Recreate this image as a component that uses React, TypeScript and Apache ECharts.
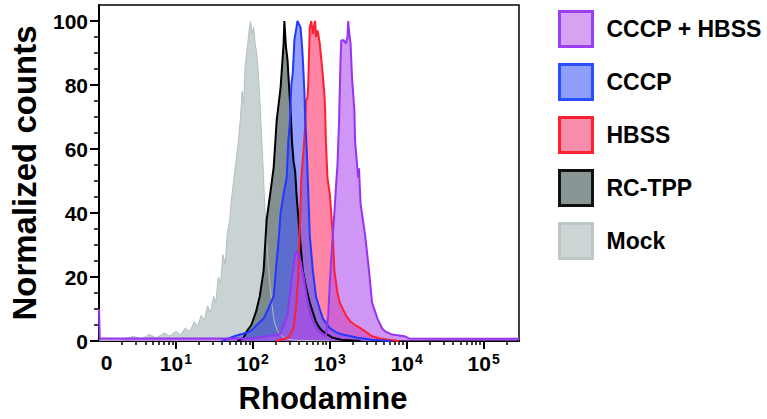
import React, { useEffect, useRef } from "react";
import * as echarts from "echarts";

// x positions are in decades (log10 of Rhodamine intensity on the display scale)
const mockX = [0.0, 0.3, 0.45, 0.55, 0.65, 0.75, 0.85, 0.92, 1.0, 1.06, 1.12, 1.18, 1.24, 1.28, 1.33, 1.37, 1.41, 1.45, 1.49, 1.52, 1.55, 1.58, 1.61, 1.64, 1.67, 1.7, 1.72, 1.75, 1.78, 1.81, 1.84, 1.86, 1.88, 1.9, 1.93, 1.95, 1.97, 1.99, 2.01, 2.03, 2.05, 2.07, 2.09, 2.11, 2.13, 2.15, 2.17, 2.19, 2.22, 2.25, 2.28, 2.32, 2.38, 2.45, 2.6, 3.0];
const mockY = [0, 0.5, 1.5, 0.5, 2, 1, 2.5, 1.5, 3, 2, 4, 3, 6, 4.5, 8, 6.5, 11, 9, 14, 12, 20, 18, 27, 24, 34, 38, 44, 50, 56, 62, 70, 78, 74, 86, 92, 97, 100, 96, 98, 93, 90, 84, 76, 66, 56, 45, 36, 27, 18, 11, 6, 3, 1.5, 0.5, 0.2, 0];

const rctppX = [1.8, 1.88, 1.92, 1.98, 2.04, 2.09, 2.14, 2.18, 2.22, 2.27, 2.31, 2.34, 2.36, 2.38, 2.4, 2.41, 2.43, 2.45, 2.47, 2.49, 2.51, 2.53, 2.55, 2.57, 2.6, 2.62, 2.65, 2.69, 2.74, 2.78, 2.82, 2.87, 2.91, 2.98, 3.04, 3.15, 3.4];
const rctppY = [0, 1, 3, 5, 9, 14, 22, 38, 45, 54, 69, 75, 79, 86, 93, 100, 92, 88, 80, 72, 62, 56, 53, 45, 36, 30, 22, 17, 12, 9, 6, 4, 3, 1.8, 1, 0.4, 0];

const hbssX = [2.3, 2.46, 2.53, 2.56, 2.59, 2.61, 2.63, 2.66, 2.68, 2.69, 2.71, 2.72, 2.74, 2.76, 2.78, 2.8, 2.81, 2.82, 2.84, 2.85, 2.87, 2.89, 2.91, 2.93, 2.94, 2.95, 2.97, 3.0, 3.01, 3.04, 3.06, 3.1, 3.13, 3.17, 3.21, 3.27, 3.33, 3.4, 3.46, 3.55, 3.65, 3.74, 3.9];
const hbssY = [0, 1, 4, 10, 20, 35, 51, 60, 67, 75, 76, 80, 98, 100, 96, 99, 100, 95, 97, 96, 93, 88, 83, 77, 72, 62, 51, 46, 43, 33, 22, 15, 12, 10, 8, 6, 5, 4, 3, 1.5, 0.8, 0.5, 0];

const cccpX = [1.6, 1.76, 1.9, 1.97, 2.05, 2.14, 2.2, 2.27, 2.31, 2.34, 2.36, 2.4, 2.44, 2.46, 2.48, 2.5, 2.52, 2.54, 2.56, 2.58, 2.6, 2.62, 2.63, 2.64, 2.65, 2.67, 2.68, 2.7, 2.72, 2.74, 2.78, 2.82, 2.87, 2.91, 3.0, 3.1, 3.17, 3.36, 3.55, 3.8];
const cccpY = [0, 1.5, 2.5, 3, 5, 7, 10, 14, 25, 33, 40, 46, 51, 62, 68, 80, 84, 94, 97, 100, 99, 98, 95, 92, 88, 78, 70, 60, 47, 33, 22, 14, 10, 7, 4, 2.5, 2, 1, 0.4, 0];

const comboX = [0.0, 0.01, 1.0, 2.0, 2.35, 2.45, 2.5, 2.55, 2.58, 2.62, 2.66, 2.7, 2.75, 2.8, 2.86, 2.92, 2.95, 2.98, 3.0, 3.03, 3.06, 3.08, 3.1, 3.12, 3.14, 3.15, 3.18, 3.21, 3.23, 3.24, 3.25, 3.27, 3.29, 3.32, 3.33, 3.37, 3.38, 3.4, 3.46, 3.51, 3.55, 3.62, 3.68, 3.72, 3.81, 3.97, 4.03, 4.5, 5.0, 5.46];
const comboY = [10, 0.8, 0.8, 0.8, 2, 8, 18, 27, 28, 25, 20, 14, 8, 5, 3, 2, 1.5, 8, 18, 30, 40, 48, 55, 68, 88, 94, 94, 93, 95, 100, 97, 93, 82, 72, 62, 51, 54, 43, 33, 22, 12, 7, 4, 3, 2, 1.5, 0.8, 0.7, 0.7, 0.7];

const seriesNames = ["CCCP + HBSS", "CCCP", "HBSS", "RC-TPP", "Mock"];

const xMajorTicks = [1, 2, 3, 4, 5];
const xLabelPositions = [0.1, 1, 2, 3, 4, 5];
const xLabelExponents = [null, 1, 2, 3, 4, 5];
const yMajorTicks = [0, 20, 40, 60, 80, 100];
const yMinorTicks = [5, 10, 15, 25, 30, 35, 45, 50, 55, 65, 70, 75, 85, 90, 95];

const X_MAX = 5.46;
const FONT = "'Liberation Sans', Arial, Helvetica, sans-serif";

function pairs(xs: number[], ys: number[]) {
  return xs.map((x, i) => [x, ys[i]]);
}

function minorTicks(): number[] {
  const out: number[] = [];
  for (let n = 0; n <= 5; n++) {
    for (let k = 2; k <= 9; k++) {
      const v = n + Math.log10(k);
      if (v < X_MAX) out.push(v);
    }
  }
  return out;
}

export default function App() {
  const ref = useRef<HTMLDivElement>(null);
  useEffect(() => {
    if (!ref.current) return;
    const chart = echarts.init(ref.current, undefined, { renderer: "svg" });

    const mk = (name: string, xs: number[], ys: number[], line: string, fill: string, opacity: number, width: number) => ({
      name,
      type: "line",
      data: pairs(xs, ys),
      xAxisIndex: 0,
      yAxisIndex: 0,
      showSymbol: false,
      symbol: "none",
      smooth: false,
      lineStyle: { color: line, width },
      itemStyle: { color: line },
      areaStyle: { color: fill, opacity },
      emphasis: { disabled: true },
    });

    const legendStyles: Record<string, { color: string; borderColor: string }> = {
      "CCCP + HBSS": { color: "#d8a2f2", borderColor: "#9a40f0" },
      CCCP: { color: "#8f9ef8", borderColor: "#2850ff" },
      HBSS: { color: "#f78daa", borderColor: "#ff2030" },
      "RC-TPP": { color: "#8a9696", borderColor: "#111111" },
      Mock: { color: "#cdd5d5", borderColor: "#bcc7c7" },
    };

    chart.setOption({
      animation: false,
      backgroundColor: "#ffffff",
      grid: {
        left: 93,
        right: 248,
        top: 5,
        bottom: 76,
        show: true,
        borderColor: "#000",
        borderWidth: 1.5,
        backgroundColor: "transparent",
      },
      legend: {
        orient: "vertical",
        left: 558,
        top: 10,
        padding: 0,
        itemWidth: 33,
        itemHeight: 35,
        itemGap: 15,
        icon: "rect",
        selectedMode: false,
        textStyle: {
          fontFamily: FONT,
          fontWeight: "bold",
          fontSize: 23,
          color: "#000",
          padding: [6, 0, 0, 9],
        },
        data: seriesNames.map((n) => ({
          name: n,
          itemStyle: { color: legendStyles[n].color, borderColor: legendStyles[n].borderColor, borderWidth: 3 },
        })),
      },
      xAxis: [
        {
          type: "value",
          position: "bottom",
          min: 0,
          max: X_MAX,
          name: "Rhodamine",
          nameLocation: "middle",
          nameGap: 42,
          nameTextStyle: { fontFamily: FONT, fontWeight: "bold", fontSize: 31, color: "#000", padding: [0, 0, 0, 28] },
          axisLine: { show: true, lineStyle: { color: "#000", width: 2 } },
          axisTick: { show: true, customValues: xMajorTicks, length: 8, lineStyle: { color: "#000", width: 2 } },
          axisLabel: {
            customValues: xLabelPositions,
            margin: 11,
            fontFamily: FONT,
            fontWeight: "bold",
            fontSize: 21,
            color: "#000",
            formatter: (v: number) => {
              const i = xLabelPositions.findIndex((t) => Math.abs(t - v) < 1e-6);
              const e = i >= 0 ? xLabelExponents[i] : null;
              return e === null ? "{b|0}" : "{b|10}{s|" + e + "}";
            },
            rich: {
              b: { fontFamily: FONT, fontWeight: "bold", fontSize: 21, color: "#000" },
              s: { fontFamily: FONT, fontWeight: "bold", fontSize: 14, color: "#000", verticalAlign: "top", padding: [0, 0, 8, 1] },
            },
          },
          splitLine: { show: false },
        },
        {
          type: "value",
          position: "bottom",
          min: 0,
          max: X_MAX,
          axisLine: { show: false },
          axisTick: { show: true, customValues: minorTicks(), length: 4, lineStyle: { color: "#000", width: 1.5 } },
          axisLabel: { show: false },
          splitLine: { show: false },
        },
      ],
      yAxis: [
        {
          type: "value",
          position: "left",
          min: 0,
          max: 105,
          name: "Normalized counts",
          nameLocation: "middle",
          nameGap: 58,
          nameTextStyle: { fontFamily: FONT, fontWeight: "bold", fontSize: 33, color: "#000" },
          axisLine: { show: true, lineStyle: { color: "#000", width: 2 } },
          axisTick: { show: true, customValues: yMajorTicks, length: 9, lineStyle: { color: "#000", width: 2 } },
          axisLabel: {
            customValues: yMajorTicks,
            margin: 11,
            fontFamily: FONT,
            fontWeight: "bold",
            fontSize: 21,
            color: "#000",
          },
          splitLine: { show: false },
        },
        {
          type: "value",
          position: "left",
          min: 0,
          max: 105,
          axisLine: { show: false },
          axisTick: { show: true, customValues: yMinorTicks, length: 5, lineStyle: { color: "#000", width: 1.5 } },
          axisLabel: { show: false },
          splitLine: { show: false },
        },
      ],
      series: [
        mk("Mock", mockX, mockY, "#b3bfbf", "#c9d3d3", 1, 1),
        mk("RC-TPP", rctppX, rctppY, "#000000", "#6e7c7c", 0.85, 2),
        mk("HBSS", hbssX, hbssY, "#ff1f2f", "#ff5c8a", 0.75, 2),
        mk("CCCP", cccpX, cccpY, "#2238ff", "#3c50ff", 0.55, 2),
        mk("CCCP + HBSS", comboX, comboY, "#9535f0", "#b050ee", 0.6, 2),
      ],
    });
    return () => chart.dispose();
  }, []);
  return (
    <div
      ref={ref}
      style={{ position: "fixed", left: 0, top: 0, width: 767, height: 419, background: "#fff" }}
    />
  );
}
